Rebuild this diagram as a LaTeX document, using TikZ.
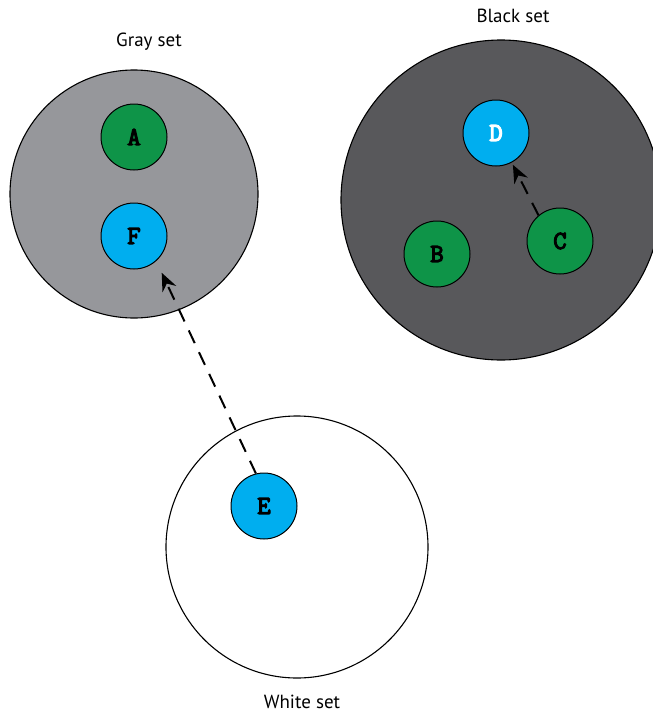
\documentclass[tikz,border=0pt]{standalone}
\usepackage{fontspec}
\setsansfont{PT Sans}
\newfontfamily\letterfont[FakeBold=4.5]{Latin Modern Mono}
\usetikzlibrary{arrows.meta,calc}
\definecolor{grayset}{RGB}{150,151,155}
\definecolor{blackset}{RGB}{88,88,91}
\definecolor{nodegreen}{RGB}{14,148,72}
\definecolor{nodeblue}{RGB}{0,174,239}
\tikzset{
  setcircle/.style={circle,draw=black,line width=1.1pt,inner sep=0pt,minimum size=#1},
  elem/.style={circle,draw=black,line width=1pt,inner sep=0pt,minimum size=66pt,
    font=\letterfont\fontsize{26}{26}\selectfont},
  greenelem/.style={elem,fill=nodegreen},
  blueelem/.style={elem,fill=nodeblue},
  setlabel/.style={font=\sffamily\fontsize{19}{19}\selectfont},
  move/.style={dash pattern=on 14pt off 10pt,line width=2pt,
    -{Stealth[length=18pt,width=15pt,inset=6pt]}}
}
\begin{document}
\begin{tikzpicture}[x=1pt,y=-1pt]
\useasboundingbox (0,0) rectangle (653,715);
\clip (0,0) rectangle (653,715);
\node[setcircle=248pt,fill=grayset] (gray) at (134,194) {};
\node[setcircle=320pt,fill=blackset] (black) at (501,200) {};
\node[setcircle=262pt,fill=white] (white) at (297,547) {};
\node[setlabel] (grayl) at (149,42) {Gray set};
\node[setlabel] (blackl) at (513,16) {Black set};
\node[setlabel] (whitel) at (302,702) {White set};
\node[greenelem] (A) at (134,137) {A};
\node[blueelem] (F) at (134,236) {F};
\node[blueelem,text=white] (D) at (496,133) {D};
\node[greenelem] (B) at (437,254) {B};
\node[greenelem] (C) at (560,241) {C};
\node[blueelem] (E) at (264,506) {E};
\coordinate (Ftip) at ($(F.center)+(-53:46pt)$);
\coordinate (Dtip) at ($(D.center)+(-62:36pt)$);
\draw[move] (E.104) -- (Ftip);
\draw[move] (C.130) -- (Dtip);
\end{tikzpicture}
\end{document}
